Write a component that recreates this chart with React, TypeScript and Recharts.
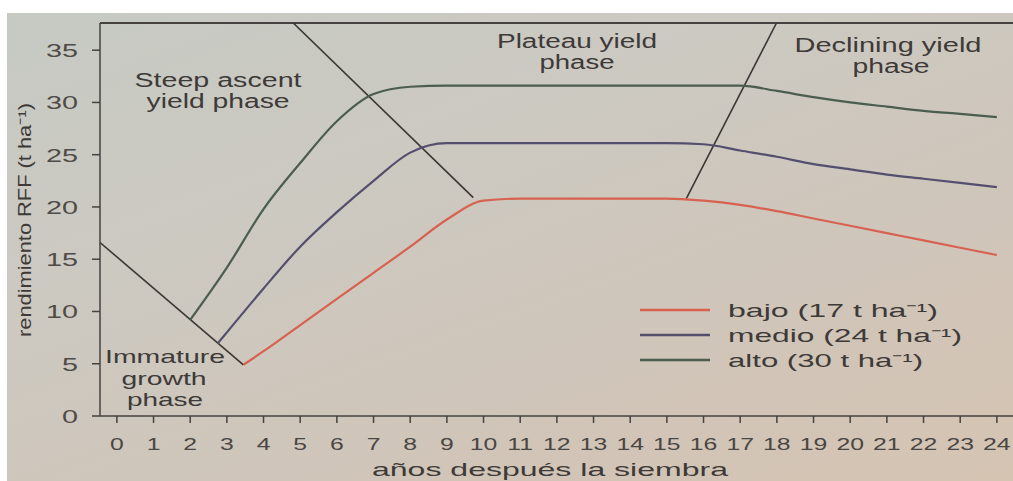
import { LineChart, Line, XAxis, YAxis, ReferenceLine, Legend } from 'recharts';

const years = [2, 2.75, 3, 3.45, 4, 5, 6, 7, 8, 9, 10, 11, 12, 13, 14, 15, 16, 17, 18, 19, 20, 21, 22, 23, 24];
const bajo = [null, null, null, 4.9, 6.2, 8.7, 11.2, 13.7, 16.2, 18.8, 20.6, 20.8, 20.8, 20.8, 20.8, 20.8, 20.6, 20.2, 19.6, 18.9, 18.2, 17.5, 16.8, 16.1, 15.4];
const medio = [null, 6.95, 8.0, null, 12.2, 16.2, 19.5, 22.5, 25.2, 26.1, 26.1, 26.1, 26.1, 26.1, 26.1, 26.1, 26.0, 25.4, 24.8, 24.1, 23.6, 23.1, 22.7, 22.3, 21.9];
const alto = [9.2, null, 14.2, null, 19.8, 24.2, 28.2, 30.8, 31.5, 31.6, 31.6, 31.6, 31.6, 31.6, 31.6, 31.6, 31.6, 31.6, 31.1, 30.5, 30.0, 29.6, 29.2, 28.9, 28.6];

// phase boundaries
const immatureEdge = [{ year: -0.46, y: 16.6 }, { year: 3.45, y: 4.9 }];
const ascentEdge = [{ year: 4.81, y: 37.6 }, { year: 9.72, y: 20.9 }];
const declineEdge = [{ year: 15.53, y: 20.8 }, { year: 17.99, y: 37.6 }];

const xTicks = Array.from({ length: 25 }, (_, i) => i);
const yTicks = [0, 5, 10, 15, 20, 25, 30, 35];

const data = years.map((year, i) => ({ year, bajo: bajo[i], medio: medio[i], alto: alto[i] }));

const FONT = 'Liberation Sans, Arial, sans-serif';
const INK = '#3d3a37';
const legendOrder = ['bajo', 'medio', 'alto'];
const legendWidths = [210, 234, 195];

const YTick = ({ x, y, payload }: any) => (
  <g transform={`translate(${x - 12},${y})`}>
    <text x={0} y={7} textAnchor="end" transform="scale(1.6,1)" fontSize={18} fill="#4f4b47" fontFamily={FONT}>
      {payload.value}
    </text>
  </g>
);

const XTick = ({ x, y, payload }: any) => (
  <g transform={`translate(${x},${y})`}>
    <text x={0} y={25} textAnchor="middle" transform="scale(1.5,1)" fontSize={16.5} fill="#4a4643" fontFamily={FONT}>
      {payload.value}
    </text>
  </g>
);

const renderLegend = ({ payload }: any) => {
  const items = legendOrder.map((k) => (payload || []).find((p: any) => p.dataKey === k)).filter(Boolean);
  return (
    <svg width={380} height={80}>
      {items.map((p: any, i: number) => (
        <g key={p.value}>
          <line x1={10} x2={80} y1={15 + 25 * i} y2={15 + 25 * i} stroke={p.color} strokeWidth={2.5} />
          <text x={98} y={15 + 25 * i} dy="0.35em" fontSize={19} fill={INK} fontFamily={FONT}
            textLength={legendWidths[i]} lengthAdjust="spacingAndGlyphs">
            {p.value}
          </text>
        </g>
      ))}
    </svg>
  );
};

const notes: [string, number, number, number, number][] = [
  ['Steep ascent', 218, 87, 167, 20],
  ['yield phase', 218, 108, 143, 20],
  ['Plateau yield', 577, 48, 160, 20],
  ['phase', 577, 69, 75, 20],
  ['Declining yield', 888, 52, 187, 20],
  ['phase', 891, 73, 77, 20],
  ['Immature', 165, 363, 120, 19],
  ['growth', 164, 385, 85, 19],
  ['phase', 165, 406, 76, 19],
];

export default function App() {
  return (
    <div style={{ position: 'absolute', left: 0, top: 0, width: 1013, height: 481, background: '#fff', overflow: 'hidden' }}>
      <div style={{
        position: 'absolute', left: 7, top: 13, width: 1006, height: 468,
        background: 'linear-gradient(160deg, #c6cac3 0%, #ccc9c1 35%, #d0c5b9 70%, #d5c4b2 100%)',
      }} />
      <div style={{ position: 'absolute', left: 0, top: 0 }}>
        <LineChart width={1013} height={481} data={data} margin={{ top: 23, right: 0, bottom: 0, left: 0 }}>
          <XAxis
            dataKey="year"
            type="number"
            domain={[-0.46, 24.44]}
            allowDataOverflow
            ticks={xTicks}
            interval={0}
            height={65}
            tickSize={7}
            tickMargin={2}
            stroke="#45423f"
            strokeWidth={1.5}
            tick={<XTick />}
          />
          <YAxis
            type="number"
            domain={[0, 37.6]}
            allowDataOverflow
            ticks={yTicks}
            width={100}
            tickSize={8}
            tickMargin={2}
            stroke="#45423f"
            strokeWidth={1.5}
            tick={<YTick />}
          />
          <ReferenceLine y={37.6} stroke="#45423f" strokeWidth={2} />
          <Line data={immatureEdge} dataKey="y" type="linear" stroke="#3a3734" strokeWidth={1.6} dot={false} legendType="none" isAnimationActive={false} />
          <Line data={ascentEdge} dataKey="y" type="linear" stroke="#3a3734" strokeWidth={1.6} dot={false} legendType="none" isAnimationActive={false} />
          <Line data={declineEdge} dataKey="y" type="linear" stroke="#3a3734" strokeWidth={1.6} dot={false} legendType="none" isAnimationActive={false} />
          <Line dataKey="bajo" name="bajo (17 t ha⁻¹)" type="monotone" stroke="#d8614f" strokeWidth={2.2} dot={false} connectNulls isAnimationActive={false} />
          <Line dataKey="medio" name="medio (24 t ha⁻¹)" type="monotone" stroke="#544f6e" strokeWidth={2.2} dot={false} connectNulls isAnimationActive={false} />
          <Line dataKey="alto" name="alto (30 t ha⁻¹)" type="monotone" stroke="#4a5d4f" strokeWidth={2.2} dot={false} connectNulls isAnimationActive={false} />
          <Legend
            content={renderLegend}
            layout="horizontal"
            verticalAlign="middle"
            align="center"
            wrapperStyle={{ left: 630, top: 295, width: 380, height: 80 }}
          />
        </LineChart>
      </div>
      <svg width={1013} height={481} style={{ position: 'absolute', left: 0, top: 0, pointerEvents: 'none' }}>
        {notes.map(([t, x, y, w, s], i) => (
          <text key={i} x={x} y={y} textAnchor="middle" fontSize={s} fill={INK} fontFamily={FONT}
            textLength={w} lengthAdjust="spacingAndGlyphs">
            {t}
          </text>
        ))}
        <text x={550} y={476} textAnchor="middle" fontSize={19} fill={INK} fontFamily={FONT}
          textLength={356} lengthAdjust="spacingAndGlyphs">
          años después la siembra
        </text>
        <text transform="translate(31,220) rotate(-90)" textAnchor="middle" fontSize={18} fill={INK} fontFamily={FONT}
          textLength={234} lengthAdjust="spacingAndGlyphs">
          rendimiento RFF (t ha⁻¹)
        </text>
      </svg>
    </div>
  );
}
